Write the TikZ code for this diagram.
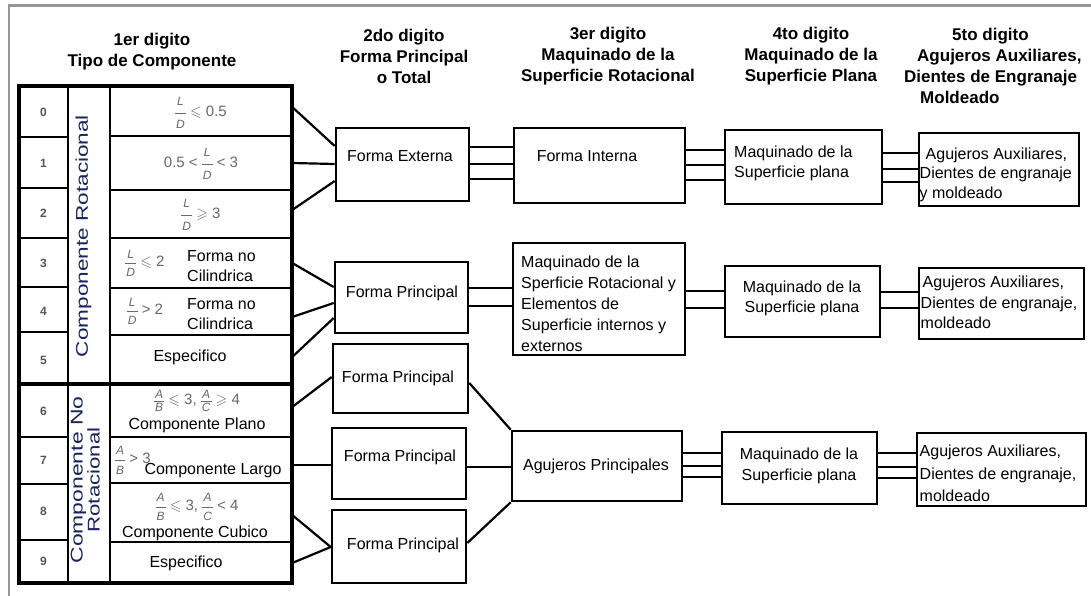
\documentclass[tikz,border=0pt]{standalone}
\usepackage{amssymb}
\usepackage{fontspec}
\setmainfont{Liberation Sans}
\usetikzlibrary{calc}

\definecolor{framegray}{RGB}{150,150,150}
\definecolor{formulagray}{RGB}{105,105,105}
\definecolor{digitgray}{RGB}{85,85,85}
\definecolor{rotblue}{RGB}{25,35,95}

\newcommand\fsize[2]{\fontsize{#1}{#2}\selectfont}
% italic sans fraction; optional argument = gap between letters and bar
\newcommand\ratio[3][5pt]{\ensuremath{\vcenter{\hbox{\fsize{12}{12}\itshape
  \setbox0\hbox{#2}\setbox2\hbox{#3}%
  \dimen0=\wd0 \ifdim\wd2>\dimen0 \dimen0=\wd2 \fi
  \advance\dimen0 by 2pt
  \vbox{\offinterlineskip
    \hbox to\dimen0{\hss\box0\hss}\kern#1
    \hrule height0.7pt
    \kern#1
    \hbox to\dimen0{\hss\box2\hss}}}}}}

\tikzset{
  box/.style={draw, line width=2.6pt, inner sep=0pt},
  link/.style={line width=2.2pt},
  txt/.style={inner sep=0pt, font=\fsize{16}{20.5}},
  head/.style={inner sep=0pt, align=center, font=\fsize{17}{21}\bfseries},
  cell/.style={inner sep=0pt, minimum width=182pt},
  digit/.style={inner sep=0pt, text=digitgray, font=\fsize{12}{12}\bfseries},
  formula/.style={inner sep=0pt, text=formulagray, font=\fsize{15}{16}},
  rottext/.style={inner sep=0pt, rotate=90, text=rotblue, font=\fsize{17}{17}},
}

\begin{document}
\begin{tikzpicture}[x=1pt, y=-1pt]
\useasboundingbox[fill=white] (0,0) rectangle (1091,596);

% page frame
\draw[framegray, line width=2.5pt] (9,596) -- (9,5.5) -- (1091,5.5);

% ---------- headers ----------
\node[head] (h1) at (152,52) {1er digito\\Tipo de Componente};
\node[head] (h2) at (404,56) {2do digito\\Forma Principal\\o Total};
\node[head] (h3) at (608,56) {3er digito\\Maquinado de la\\Superficie Rotacional};
\node[head] (h4) at (811,56) {4to digito\\Maquinado de la\\Superficie Plana};
\node[head, align=left, anchor=west] (h5) at (904,66)
  {\hspace*{48pt}5to digito\\\hspace*{13pt}Agujeros Auxiliares,\\Dientes de Engranaje\\\hspace*{16pt}Moldeado};

% ---------- classification table ----------
\draw[line width=2.4pt] (68,86) -- (68,583) (110,86) -- (110,583);
\foreach \y in {137,188,238,287,332,437,484,540}
  \draw[line width=2.4pt] (19,\y) -- (68,\y);
\foreach \y in {136,190,238,288,335,437,483,542}
  \draw[line width=2.4pt] (110,\y) -- (292,\y);
\draw[line width=3.2pt] (19,384) -- (292,384);
\draw[line width=3.2pt] (19,86) rectangle (292,583);

% digits
\foreach \d/\y in {0/112,1/163,2/213,3/263,4/311,5/360,6/411,7/460,8/511,9/561}
  \node[digit] (d\d) at (43.5,\y) {\d};

% group labels
\node[rottext] (grpR) at (83.6,236) {\resizebox{242pt}{\height}{Componente Rotacional}};
\node[rottext, align=center] (grpN) at (85.3,480)
  {\resizebox{167pt}{\height}{Componente No}\\\resizebox{105pt}{\height}{Rotacional}};

% cells of the third column
\node[cell, minimum height=50pt] (c0) at (201,111) {};
\node[cell, minimum height=54pt] (c1) at (201,163) {};
\node[cell, minimum height=48pt] (c2) at (201,214) {};
\node[cell, minimum height=50pt] (c3) at (201,263) {};
\node[cell, minimum height=47pt] (c4) at (201,311.5) {};
\node[cell, minimum height=49pt] (c5) at (201,359.5) {};
\node[cell, minimum height=53pt] (c6) at (201,410.5) {};
\node[cell, minimum height=46pt] (c7) at (201,460) {};
\node[cell, minimum height=59pt] (c8) at (201,512.5) {};
\node[cell, minimum height=41pt] (c9) at (201,562.5) {};

\node[formula] (f0) at (201,113) {\ratio[7pt]{L}{D} $\leqslant$ 0.5};
\node[formula] (f1) at (201,164) {0.5 < \ratio[7pt]{L}{D} < 3};
\node[formula] (f2) at (201,215) {\ratio[7pt]{L}{D} $\geqslant$ 3};
\node[formula] (f3) at (145,263) {\ratio[4.5pt]{L}{D} $\leqslant$ 2};
\node[txt, align=left, anchor=west] (t3) at (187,266) {Forma no\\Cilindrica};
\node[formula] (f4) at (145,311) {\ratio[4.5pt]{L}{D} > 2};
\node[txt, align=left, anchor=west] (t4) at (187,314) {Forma no\\Cilindrica};
\node[txt] (t5) at (190,357) {Especifico};
\node[formula] (f6) at (197,401) {\ratio[2pt]{A}{B} $\leqslant$ 3, \ratio[2pt]{A}{C} $\geqslant$ 4};
\node[txt] (t6) at (197,425) {Componente Plano};
\node[formula, anchor=west] (f7) at (115,460) {\ratio[5.5pt]{A}{B} > 3};
\node[txt] (t7) at (213,471) {Componente Largo};
\node[formula] (f8) at (197,507) {\ratio[5pt]{A}{B} $\leqslant$ 3, \ratio[5pt]{A}{C} < 4};
\node[txt] (t8) at (195,533) {Componente Cubico};
\node[txt] (t9) at (186,563) {Especifico};

% ---------- boxes ----------
\node[box, minimum width=133pt, minimum height=73pt] (fe) at (402.5,164.5) {};
\node[box, minimum width=171pt, minimum height=75pt] (fi) at (599.5,165.5) {};
\node[box, minimum width=157pt, minimum height=74pt] (mt) at (803.5,167) {};
\node[box, minimum width=160pt, minimum height=73pt] (at) at (999,169.5) {};

\node[box, minimum width=133pt, minimum height=71pt] (fp1) at (401.5,297.5) {};
\node[box, minimum width=172pt, minimum height=112pt] (mr) at (599,299) {};
\node[box, minimum width=155pt, minimum height=71pt] (mm) at (802.5,301.5) {};
\node[box, minimum width=165pt, minimum height=71pt] (am) at (1001.5,303.5) {};

\node[box, minimum width=135pt, minimum height=69pt] (fp2) at (400.5,378.5) {};
\node[box, minimum width=134pt, minimum height=71pt] (fp3) at (399,463.5) {};
\node[box, minimum width=134pt, minimum height=73pt] (fp4) at (399,546.5) {};
\node[box, minimum width=170pt, minimum height=70pt] (ap) at (597,466) {};
\node[box, minimum width=155pt, minimum height=72pt] (mb) at (799.5,468) {};
\node[box, minimum width=169pt, minimum height=73pt] (ab) at (1001.5,469.5) {};

% box texts
\node[txt] (fe-t) at (400,156) {Forma Externa};
\node[txt] (fi-t) at (587,156) {Forma Interna};
\node[txt, align=left, anchor=west] (mt-t) at (734,163.5) {Maquinado de la\\Superficie plana};
\node[txt, align=left, anchor=west, font=\fsize{16}{19.5}] (at-t) at (919.5,174.5)
  {\hspace*{6pt}Agujeros Auxiliares,\\Dientes de engranaje\\y moldeado};

\node[txt] (fp1-t) at (402,293) {Forma Principal};
\node[txt, align=left, anchor=west, font=\fsize{16}{21}] (mr-t) at (521,304)
  {Maquinado de la\\Sperficie Rotacional y\\Elementos de\\Superficie internos y\\externos};
\node[txt, align=center] (mm-t) at (802,298.5) {Maquinado de la\\Superficie plana};
\node[txt, align=left, anchor=west] (am-t) at (920.5,302.5)
  {\hspace*{2pt}Agujeros Auxiliares,\\Dientes de engranaje,\\moldeado};

\node[txt] (fp2-t) at (398,378) {Forma Principal};
\node[txt] (fp3-t) at (400,457) {Forma Principal};
\node[txt] (fp4-t) at (403,545) {Forma Principal};
\node[txt] (ap-t) at (596,466) {Agujeros Principales};
\node[txt, align=center] (mb-t) at (799,466) {Maquinado de la\\Superficie plana};
\node[txt, align=left, anchor=west, font=\fsize{16}{22.5}] (ab-t) at (919.5,473.5)
  {Agujeros Auxiliares,\\Dientes de engranaje,\\moldeado};

% ---------- connectors ----------
\draw[link] (c0.east |- 0,107) -- (fe.west |- 0,146);
\draw[link] (c1.east |- 0,163) -- (fe.west |- 0,164);
\draw[link] (c2.east |- 0,210) -- (fe.west |- 0,181);
\draw[link] (c3.east |- 0,263) -- (fp1.west |- 0,287);
\draw[link] (c4.east |- 0,317) -- (fp1.west |- 0,303);
\draw[link] (c5.east |- 0,357) -- (fp1.west |- 0,318);
\draw[link] (c6.east |- 0,407) -- (fp2.west |- 0,377);
\draw[link] (c7.east |- 0,465) -- (fp3.west |- 0,465);
\draw[link] (c8.east |- 0,515) -- (fp4.west |- 0,547);
\draw[link] (c9.east |- 0,563) -- (fp4.west |- 0,547);

\foreach \y in {147,164,179} \draw[link] (fe.east |- 0,\y) -- (fi.west |- 0,\y);
\foreach \y in {150,165,180} \draw[link] (fi.east |- 0,\y) -- (mt.west |- 0,\y);
\foreach \y in {153,169,182} \draw[link] (mt.east |- 0,\y) -- (at.west |- 0,\y);

\foreach \y in {288,306} \draw[link] (fp1.east |- 0,\y) -- (mr.west |- 0,\y);
\foreach \y in {291,308} \draw[link] (mr.east |- 0,\y) -- (mm.west |- 0,\y);
\foreach \y in {292,308} \draw[link] (mm.east |- 0,\y) -- (am.west |- 0,\y);

\draw[link] (fp2.east |- 0,383) -- (ap.north west);
\draw[link] (fp3.east |- 0,467) -- (ap.west |- 0,467);
\draw[link] (fp4.east |- 0,543) -- (ap.south west);
\foreach \y in {453,466,477} \draw[link] (ap.east |- 0,\y) -- (mb.west |- 0,\y);
\foreach \y in {453,467,478} \draw[link] (mb.east |- 0,\y) -- (ab.west |- 0,\y);
\end{tikzpicture}
\end{document}
